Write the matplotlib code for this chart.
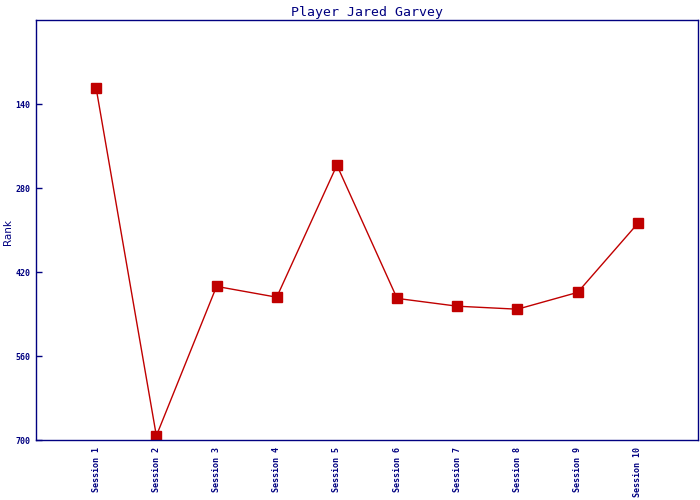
import matplotlib
matplotlib.use("Agg")
import matplotlib.pyplot as plt

sessions = ["Session 1", "Session 2", "Session 3", "Session 4", "Session 5",
            "Session 6", "Session 7", "Session 8", "Session 9", "Session 10"]
ranks = [114, 693, 444, 462, 242, 464, 477, 482, 454, 339]
y_ticks = [140, 280, 420, 560, 700]

navy = "#000080"
red = "#c00000"

fig = plt.figure(figsize=(7, 5), dpi=100)
ax = fig.add_axes([36 / 700, 60 / 500, 662 / 700, 420 / 500])

x = list(range(1, len(sessions) + 1))
ax.plot(x, ranks, color=red, linewidth=1.0, marker="s", markersize=6.5,
        markerfacecolor=red, markeredgecolor=red)

ax.set_xlim(0, len(sessions) + 1)
ax.set_ylim(700, 0)
ax.set_xticks(x)
ax.set_xticklabels(sessions, rotation=90, family="DejaVu Sans Mono",
                   fontsize=6, color=navy, va="top", fontweight="bold")
ax.set_yticks(y_ticks)
ax.set_yticklabels([str(v) for v in y_ticks], family="DejaVu Sans Mono",
                   fontsize=6, color=navy, fontweight="bold")
ax.tick_params(axis="x", length=0, pad=5)
ax.tick_params(axis="y", direction="in", length=4, width=1, color=navy, pad=4)

for s in ax.spines.values():
    s.set_color(navy)
    s.set_linewidth(1)

ax.set_title("Player Jared Garvey", family="DejaVu Sans Mono", fontsize=9.5,
             color=navy, pad=3)
# y label placed by hand, it is close to the figure edge
fig.text(8 / 700, 0.536, "Rank", rotation=90, ha="center", va="center",
         fontsize=7.5, color=navy)

fig.savefig("out.png", dpi=100)
